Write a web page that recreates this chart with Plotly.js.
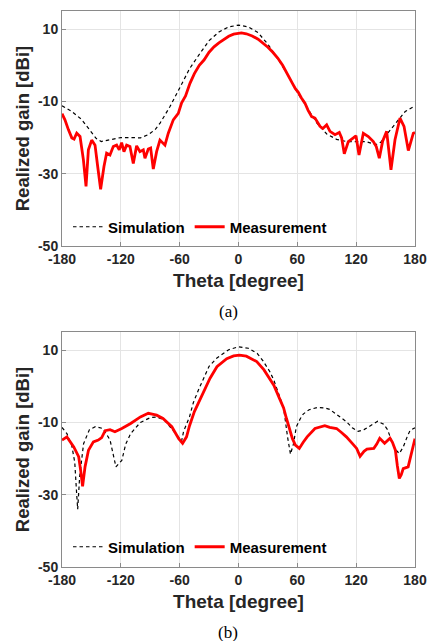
<!DOCTYPE html>
<html>
<head>
<meta charset="utf-8">
<script src="https://cdn.plot.ly/plotly-3.0.1.min.js"></script>
<style>
  html, body { margin: 0; padding: 0; background: #ffffff; }
  #chart { width: 428px; height: 641px; }
</style>
</head>
<body>
<div id="chart"></div>
<script>
// ---------- data ----------
var xTickVals = [-180, -120, -60, 0, 60, 120, 180];
var yTickVals = [10, -10, -30, -50];
var seriesNames = ["Simulation", "Measurement"];
var captions = ["(a)", "(b)"];

// (a) simulation
var simA_theta = [-180,-170,-160,-150,-145,-140,-130,-120,-110,-100,-92,-85,-80,-70,-60,-50,-40,-30,-20,-10,0,10,20,30,40,50,60,70,80,90,100,110,120,130,140,145,150,160,170,180];
var simA_gain  = [-11.2,-12.8,-15,-18.5,-20.3,-21.1,-20.6,-20,-20,-20.1,-19.2,-17.8,-16,-11.5,-6.3,-1,3,6.8,9.2,10.6,11.1,10.6,9,5.8,1.8,-2.5,-7.5,-11.8,-16,-19,-20.5,-21.1,-21.1,-21.1,-22,-21.3,-19.5,-16,-12.8,-11.2];

// (a) measurement
var measA_theta = [-180,-177,-173.5,-170,-167.7,-165,-161.6,-158.2,-155.5,-153.1,-149.7,-146.3,-143.6,-140.6,-137.2,-134.5,-131.1,-127.7,-124.3,-121.6,-119.2,-116.8,-114.1,-110.7,-107.3,-103.9,-100.5,-97.1,-95.4,-92,-89.6,-86.9,-83.5,-80.1,-75,-71.6,-66.5,-61.4,-58,-54,-49.5,-45,-40,-35,-30,-25,-20,-15,-10,-5,0,3,8,14,20,25,30,35,40,45,50,55,58,61,64,67.8,71,74.6,78,83.1,86,89.9,93.3,98.4,102.8,105.2,107.9,112,117.1,119.8,122.9,127.3,132.4,137.5,140.5,143.6,147,151.1,155.5,159.6,164.7,168.8,173.2,178.3,180];
var measA_gain  = [-13.4,-15.1,-17.8,-20.1,-20.4,-18.8,-19.7,-26.1,-33.5,-23.4,-20.7,-22.1,-28,-34.3,-28,-24.3,-24.8,-22.5,-22.1,-23.4,-21.4,-23.9,-22.1,-22.5,-27.2,-22.3,-23.9,-23.4,-25.7,-23.2,-22.9,-28.7,-23.9,-20.7,-22.1,-18.8,-15.1,-13.3,-10.4,-8.5,-5,-2.3,0,1.5,3.6,5.1,6.2,7.1,8,8.6,8.9,8.95,8.7,8.1,7.2,6.1,5,3.6,2,0,-2.3,-5,-6.5,-7.5,-9,-10.5,-12.5,-14.2,-14.6,-16.9,-17.5,-16.5,-18.3,-19.2,-18.6,-20.1,-24.5,-21.1,-20.1,-19.5,-24.8,-18.8,-19.7,-21.1,-22.5,-25.7,-21,-18.3,-28.9,-20.6,-14.6,-16.9,-23.6,-18.8,-18.6];

// (b) simulation
var simB_theta = [-180,-175,-170,-167,-165,-164,-162,-158,-152,-146,-138,-131,-125,-122,-119,-115,-110,-100,-90,-83,-75,-70,-63,-58,-56,-50,-46,-40,-30,-22,-10,0,10,19,25,32,36,40,46,50,53,56,59,63,66,72,80,88,93,100,110,116,122,128,134,142,148,152,156,160,164,168,172,175,180];
var simB_gain  = [-11.4,-13.1,-16.5,-21,-30,-34,-25,-15.9,-12,-11.2,-11.7,-14.9,-22.3,-21.5,-20.5,-16,-13.1,-10,-8.7,-8.5,-9.5,-11.2,-13.5,-15.1,-12.5,-8.5,-4.5,-0.5,5.5,7.8,10.1,10.9,10.5,9.1,7,4,1.7,-1.5,-6,-14,-18.8,-16,-11.2,-9,-7.7,-6.5,-5.9,-6,-6.4,-7.8,-9.8,-11.5,-12.5,-12,-11,-9.7,-10.5,-12,-15,-17.5,-18.6,-16.8,-14,-12.2,-11.5];

// (b) measurement
var measB_theta = [-180,-175,-168,-163,-161,-159,-156.5,-153,-148,-143,-139.5,-136,-131,-126,-119,-110,-100,-92,-88,-83.5,-77,-68,-61,-57,-53,-50,-45,-42,-39,-34,-29,-22,-12,-5,1,8,18.6,26,32,36,42,46,49,52.5,55,58,62,66,70,78,85,88,93,100,105,110,116,120.5,124,128,131,138,141,144,149,154.5,157,160,162,164,166,168,173,176,179,180];
var measB_gain  = [-14.9,-14,-16.8,-19.5,-23.2,-27.7,-22.3,-17.7,-15.4,-14.9,-14.2,-12.3,-12,-12.6,-11.7,-10.3,-8.5,-7.5,-7.7,-8,-8.9,-11.2,-14.5,-15.8,-14,-11,-7,-5.2,-3.9,-0.5,2.2,5.4,7.6,8.4,8.6,8.3,6.8,4.5,2,0.3,-3.5,-6,-9,-12.4,-14.5,-16.3,-17.2,-15.5,-14,-11.7,-11,-10.9,-11.4,-11.7,-12.8,-14,-15.8,-17.2,-19.4,-18,-17.4,-17.2,-16,-14.4,-15.8,-14.4,-15.5,-17.7,-22,-25.5,-24.5,-22.8,-22.3,-19,-15,-14.5];

// ---------- styling ----------
var SANS = "Liberation Sans, Arial, Helvetica, sans-serif";
var SERIF = "Liberation Serif, Times New Roman, serif";
var TXT = "#262626";
var FRAME = "#8a8a8a";
var GRID = "#e4e4e4";

var simLine = {color: "#000000", width: 1.2, dash: "3.5px,3px"};
var measLine = {color: "#ff0000", width: 2.8};

var traces = [
  {x: simA_theta, y: simA_gain, name: seriesNames[0], type: "scatter", mode: "lines", line: simLine, xaxis: "x", yaxis: "y", legend: "legend"},
  {x: measA_theta, y: measA_gain, name: seriesNames[1], type: "scatter", mode: "lines", line: measLine, xaxis: "x", yaxis: "y", legend: "legend"},
  {x: simB_theta, y: simB_gain, name: seriesNames[0], type: "scatter", mode: "lines", line: simLine, xaxis: "x2", yaxis: "y2", legend: "legend2"},
  {x: measB_theta, y: measB_gain, name: seriesNames[1], type: "scatter", mode: "lines", line: measLine, xaxis: "x2", yaxis: "y2", legend: "legend2"}
];

function xAxis(anchor) {
  return {
    anchor: anchor, domain: [0, 1], range: [-180, 180],
    tickmode: "array", tickvals: xTickVals, ticktext: xTickVals.map(String),
    ticks: "inside", ticklen: 4, tickcolor: FRAME, tickwidth: 1,
    showline: true, mirror: true, linecolor: FRAME, linewidth: 1,
    showgrid: true, gridcolor: GRID, gridwidth: 1, zeroline: false,
    tickfont: {family: SANS, size: 14, color: TXT, weight: "bold"},
    title: {text: "Theta [degree]", font: {family: SANS, size: 19, color: TXT, weight: "bold"}, standoff: 7},
    automargin: false, fixedrange: true
  };
}
function yAxis(anchor, dom) {
  return {
    anchor: anchor, domain: dom, range: [-50, 15],
    tickmode: "array", tickvals: yTickVals, ticktext: yTickVals.map(String),
    ticks: "inside", ticklen: 4, tickcolor: FRAME, tickwidth: 1,
    showline: true, mirror: true, linecolor: FRAME, linewidth: 1,
    showgrid: true, gridcolor: GRID, gridwidth: 1, zeroline: false,
    tickfont: {family: SANS, size: 14, color: TXT, weight: "bold"},
    title: {text: "Realized gain [dBi]", font: {family: SANS, size: 18.5, color: TXT, weight: "bold"}, standoff: 3},
    automargin: false, fixedrange: true
  };
}

var legendBase = {
  orientation: "h", xanchor: "left", yanchor: "middle",
  bgcolor: "rgba(255,255,255,0)", borderwidth: 0,
  font: {family: SANS, size: 15, color: "#000000", weight: "bold"},
  itemwidth: 30, tracegroupgap: 0
};

var layout = {
  width: 428, height: 641,
  margin: {l: 62, r: 13, t: 11, b: 74},
  paper_bgcolor: "#ffffff", plot_bgcolor: "#ffffff",
  showlegend: true,
  xaxis: xAxis("y"),
  yaxis: yAxis("x", [0.5773, 1]),
  xaxis2: xAxis("y2"),
  yaxis2: yAxis("x2", [0, 0.4227]),
  legend: Object.assign({}, legendBase, {x: 0.02, y: 0.6236}),
  legend2: Object.assign({}, legendBase, {x: 0.02, y: 0.0360}),
  annotations: [
    {text: captions[0], xref: "paper", yref: "paper", x: 0.47, y: 0, showarrow: false,
     font: {family: SERIF, size: 17, color: "#000000"}},
    {text: captions[1], xref: "paper", yref: "paper", x: 0.47, y: 0, showarrow: false,
     font: {family: SERIF, size: 17, color: "#000000"}}
  ]
};
// caption positions in paper coords (plot area spans y 11..567 px)
layout.annotations[0].y = (567 - 311) / 556;
layout.annotations[0].yanchor = "middle";
layout.annotations[1].y = (567 - 632) / 556;
layout.annotations[1].yanchor = "middle";
layout.annotations[0].x = (228 - 62) / 353;
layout.annotations[1].x = (228 - 62) / 353;
layout.legend.y = (567 - 227) / 556;
layout.legend2.y = (567 - 547) / 556;
layout.legend.x = (68 - 62) / 353;
layout.legend2.x = (68 - 62) / 353;

Plotly.newPlot("chart", traces, layout, {staticPlot: true, displayModeBar: false});
</script>
</body>
</html>
